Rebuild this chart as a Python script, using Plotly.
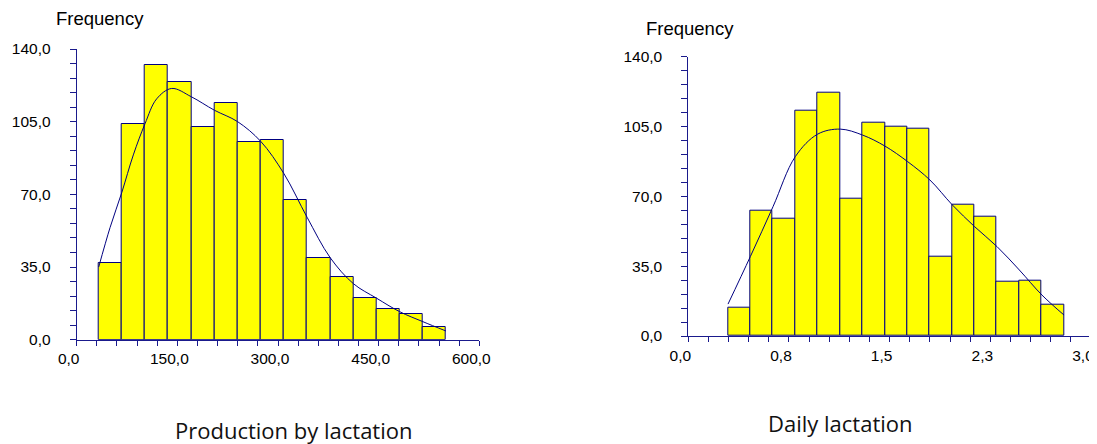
import plotly.graph_objects as go

# ---------------- data ----------------
# Left: Production by lactation
prod_edges = [32.8, 67.3, 101.8, 136.3, 170.8, 205.3, 239.8, 274.3, 308.8,
              343.3, 377.8, 412.3, 446.8, 481.3, 515.8, 550.3]
prod_freq = [37.1, 104.0, 132.1, 124.3, 102.3, 114.1, 95.2, 96.0, 67.1,
             39.2, 30.2, 20.2, 14.9, 12.2, 6.1]
prod_curve_x = [32.8, 49.7, 67.3, 84.4, 101.8, 119.2, 141.6, 170.8, 205.3,
                239.8, 274.3, 308.8, 343.3, 377.8, 412.3, 446.8, 481.3,
                515.8, 550.3]
prod_curve_y = [35.0, 54.0, 71.0, 89.0, 104.0, 116.0, 121.0, 117.0, 110.5,
                105.0, 95.5, 80.0, 59.0, 39.5, 27.0, 20.0, 13.5, 8.7, 4.2]
prod_xticks = [0, 150, 300, 450, 600]
prod_xticktext = ["0,0", "150,0", "300,0", "450,0", "600,0"]

# Right: Daily lactation
daily_edges = [0.296, 0.462, 0.629, 0.796, 0.963, 1.130, 1.297, 1.464, 1.631,
               1.798, 1.965, 2.131, 2.298, 2.465, 2.632, 2.799]
daily_freq = [14.0, 63.0, 59.0, 113.1, 122.1, 69.0, 106.9, 105.1, 104.1,
              39.9, 66.0, 60.0, 27.1, 27.9, 15.9]
daily_curve_x = [0.296, 0.462, 0.631, 0.797, 0.964, 1.132, 1.299, 1.465,
                 1.634, 1.800, 1.967, 2.133, 2.300, 2.466, 2.635, 2.799]
daily_curve_y = [16.0, 39.8, 64.8, 89.9, 101.2, 103.7, 100.7, 95.2, 87.4,
                 78.2, 65.7, 54.8, 44.8, 33.1, 20.5, 10.5]
daily_xticks = [0, 0.75, 1.5, 2.25, 3.0]
daily_xticktext = ["0,0", "0,8", "1,5", "2,3", "3,0"]

yticks = [0, 35, 70, 105, 140]
yticktext = ["0,0", "35,0", "70,0", "105,0", "140,0"]

titles = ["Production by lactation", "Daily lactation"]
ylabel = "Frequency"

# ---------------- styling ----------------
# The page body has an 8px margin, so the figure is laid out in page
# coordinates minus that offset.
OFF = 8
W, H = 1097 - OFF, 444 - OFF
NAVY = "#000080"
AXIS = "#1a1a8c"
TICKFONT = dict(family="Liberation Sans, Arial, sans-serif", size=15.5, color="black")


def px(v):
    return (v - OFF) / W


def py(v):
    return (H - (v - OFF)) / H


def centers_widths(edges):
    c = [(edges[i] + edges[i + 1]) / 2 for i in range(len(edges) - 1)]
    w = [edges[i + 1] - edges[i] for i in range(len(edges) - 1)]
    return c, w


fig = go.Figure()

pc, pw = centers_widths(prod_edges)
dc, dw = centers_widths(daily_edges)

fig.add_trace(go.Bar(x=pc, y=prod_freq, width=pw, xaxis="x", yaxis="y",
                     marker=dict(color="#FFFF00", line=dict(color=NAVY, width=1)),
                     showlegend=False))
fig.add_trace(go.Scatter(x=prod_curve_x, y=prod_curve_y, xaxis="x", yaxis="y",
                         mode="lines", line=dict(color=NAVY, width=1, shape="spline"),
                         showlegend=False))
fig.add_trace(go.Bar(x=dc, y=daily_freq, width=dw, xaxis="x2", yaxis="y2",
                     marker=dict(color="#FFFF00", line=dict(color=NAVY, width=1)),
                     showlegend=False))
fig.add_trace(go.Scatter(x=daily_curve_x, y=daily_curve_y, xaxis="x2", yaxis="y2",
                         mode="lines", line=dict(color=NAVY, width=1, shape="spline"),
                         showlegend=False))


def xax(domain, rng, tv, tt, dt, anchor):
    return dict(domain=domain, range=rng, tickvals=tv, ticktext=tt, anchor=anchor,
                automargin=False, ticklabeloverflow="allow",
                showline=True, linecolor=AXIS, linewidth=1, showgrid=False,
                zeroline=False, ticks="outside", ticklen=5, tickcolor=AXIS,
                tickfont=TICKFONT, ticklabelshift=-8,
                minor=dict(dtick=dt, tick0=0, ticks="outside", ticklen=5,
                           tickcolor=AXIS, showgrid=False))


def yax(domain, anchor):
    return dict(domain=domain, range=[0, 140], tickvals=yticks, ticktext=yticktext,
                anchor=anchor, automargin=False,
                showline=True, linecolor=AXIS, linewidth=1,
                showgrid=False, zeroline=False, ticks="outside", ticklen=6,
                tickcolor=AXIS, tickfont=TICKFONT, ticklabelstandoff=16,
                minor=dict(dtick=7, tick0=0, ticks="outside", ticklen=6,
                           tickcolor=AXIS, showgrid=False))


fig.update_layout(
    width=W, height=H,
    margin=dict(l=0, r=0, t=0, b=0, autoexpand=False),
    paper_bgcolor="white", plot_bgcolor="white",
    bargap=0,
    xaxis=xax([px(76.7), px(479.3)], [0, 600], prod_xticks, prod_xticktext, 30, "y"),
    yaxis=yax([py(339.7), py(49)], "x"),
    xaxis2=xax([px(688.3), px(1091)], [0, 3.0], daily_xticks, daily_xticktext, 0.15, "y2"),
    yaxis2=yax([py(336), py(56.7)], "x2"),
)

ann_font = dict(family="Liberation Sans, Arial, sans-serif", size=18.5, color="black")
title_font = dict(family="Open Sans, Noto Sans, sans-serif", size=22, color="#111111")

fig.add_annotation(text=ylabel, xref="paper", yref="paper", x=px(99.7), y=py(18.5),
                   xanchor="center", yanchor="middle", showarrow=False, font=ann_font)
fig.add_annotation(text=ylabel, xref="paper", yref="paper", x=px(690.3), y=py(28.5),
                   xanchor="center", yanchor="middle", showarrow=False, font=ann_font)
fig.add_annotation(text=titles[0], xref="paper", yref="paper", x=px(293.5), y=py(430),
                   xanchor="center", yanchor="middle", showarrow=False, font=title_font)
fig.add_annotation(text=titles[1], xref="paper", yref="paper", x=px(840.5), y=py(422.5),
                   xanchor="center", yanchor="middle", showarrow=False, font=title_font)

fig.write_html("out.html")
